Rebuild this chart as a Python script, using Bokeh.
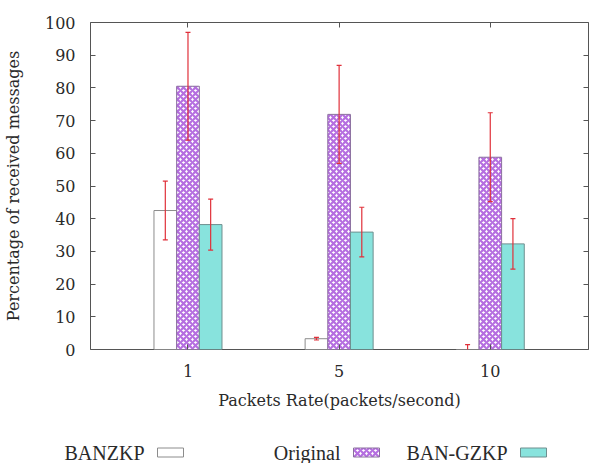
import numpy as np
from bokeh.plotting import figure
from bokeh.models import (Range1d, FixedTicker, LinearAxis, ColumnDataSource,
                          Whisker, TeeHead, Label)
from bokeh.embed import file_html
from bokeh.resources import INLINE

# ---- data ----
rates = ["1", "5", "10"]
series_names = ["BANZKP", "Original", "BAN-GZKP"]
banzkp = [42.5, 3.3, 0.0]
banzkp_err = [9.0, 0.4, 1.5]
original = [80.5, 71.9, 58.8]
original_err = [16.5, 15.0, 13.6]
bangzkp = [38.2, 35.9, 32.3]
bangzkp_err = [7.8, 7.6, 7.7]
y_ticks = list(range(0, 101, 10))

AXFONT = "DejaVu Serif"
LGFONT = "Times New Roman"
TXT = "#2a2a2a"
ERR = "#e0303a"

styles = [
    dict(fill_color="white", line_color="#8c8c8c"),
    dict(fill_color="white", line_color="#8a6f9e", hatch_pattern="x",
         hatch_color="#b56ee0", hatch_scale=6, hatch_weight=2.2),
    dict(fill_color="#88e3dd", line_color="#6f8f8f"),
]

pos = np.arange(len(rates))
offsets = [-0.15, 0.0, 0.15]
bw = 0.15

p = figure(width=591, height=420, x_range=Range1d(-0.645, 2.65),
           y_range=Range1d(0, 100), output_backend="svg",
           toolbar_location=None, min_border_left=89, min_border_right=3,
           min_border_top=22, min_border_bottom=71)
p.xgrid.visible = False
p.ygrid.visible = False
p.outline_line_color = "#555555"
p.outline_line_width = 1
p.background_fill_color = "white"

for vals, errs, off, st in zip([banzkp, original, bangzkp],
                               [banzkp_err, original_err, bangzkp_err],
                               offsets, styles):
    xs = pos + off
    v = np.array(vals)
    e = np.array(errs)
    src = ColumnDataSource(dict(x=xs, top=v, upper=v + e, lower=v - e))
    p.vbar(x="x", top="top", bottom=0, width=bw, source=src, line_width=1, **st)
    w = Whisker(source=src, base="x", upper="upper", lower="lower",
                line_color=ERR, line_width=1.2, level="overlay",
                upper_head=TeeHead(size=5, line_color=ERR, line_width=1.2),
                lower_head=TeeHead(size=5, line_color=ERR, line_width=1.2))
    p.add_layout(w)

def style_axis(ax, labels=True):
    ax.axis_line_color = None
    ax.major_tick_in = 5
    ax.major_tick_out = 0
    ax.minor_tick_in = 0
    ax.minor_tick_out = 0
    ax.major_tick_line_color = "#555555"
    if labels:
        ax.major_label_text_font = AXFONT
        ax.major_label_text_font_size = "16px"
        ax.major_label_text_color = TXT
        ax.axis_label_text_font = AXFONT
        ax.axis_label_text_font_size = "16px"
        ax.axis_label_text_font_style = "normal"
        ax.axis_label_text_color = TXT
    else:
        ax.major_label_text_font_size = "1px"
        ax.major_label_text_color = None
        ax.major_label_standoff = 0

p.xaxis.ticker = FixedTicker(ticks=list(pos))
p.xaxis.major_label_overrides = {int(i): r for i, r in zip(pos, rates)}
p.xaxis.axis_label = "Packets Rate(packets/second)"
p.xaxis.major_label_standoff = 15
p.xaxis.axis_label_standoff = 11
style_axis(p.xaxis[0])

p.yaxis.ticker = FixedTicker(ticks=y_ticks)
p.yaxis.axis_label = "Percentage of received messages"
p.yaxis.major_label_standoff = 15
p.yaxis.axis_label_standoff = 19
style_axis(p.yaxis[0])

ra = LinearAxis(ticker=FixedTicker(ticks=y_ticks))
style_axis(ra, labels=False)
p.add_layout(ra, "right")
ta = LinearAxis(ticker=FixedTicker(ticks=list(pos)))
style_axis(ta, labels=False)
p.add_layout(ta, "above")

# ---- legend (gnuplot style: label then swatch), pixel coordinates ----
lg = figure(width=591, height=43, x_range=Range1d(0, 591), y_range=Range1d(0, 43),
            output_backend="svg", toolbar_location=None, min_border=0)
lg.xaxis.visible = False
lg.yaxis.visible = False
lg.xgrid.visible = False
lg.ygrid.visible = False
lg.outline_line_color = None
label_right = [144, 340, 507]
sw_gap, sw_w, sw_h, ly = 13, 26, 9, 11
for xr, name, st in zip(label_right, series_names, styles):
    lg.add_layout(Label(x=xr, y=ly, text=name, text_align="right",
                        text_baseline="middle", text_font=LGFONT,
                        text_font_size="20px", text_color=TXT))
    lg.rect(x=[xr + sw_gap + sw_w / 2], y=[ly], width=sw_w, height=sw_h,
            line_width=1, **st)

open("out.html", "w").write(file_html([p, lg], INLINE))
